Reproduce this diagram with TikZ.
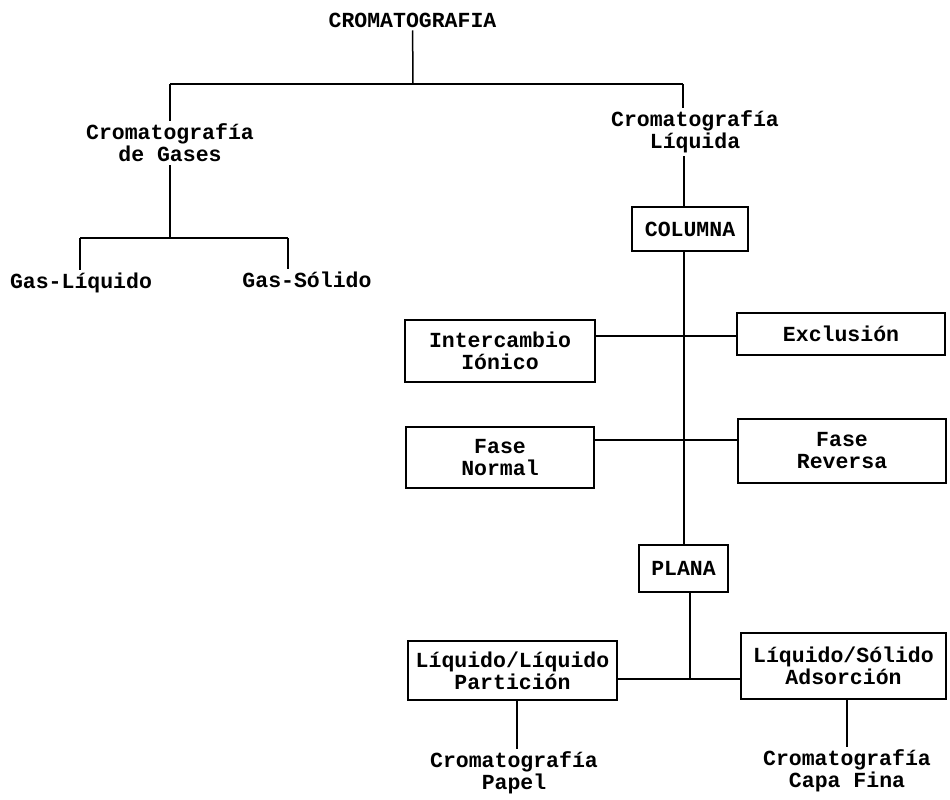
\documentclass[tikz,border=0pt]{standalone}
\usepackage{fontspec}
\setmainfont{Liberation Mono}
\begin{document}
\begin{tikzpicture}[x=1pt,y=-1pt,
  every node/.style={font=\bfseries\fontsize{21.5}{22}\selectfont, align=center, inner sep=3pt},
  lbl/.style={},
  bx/.style={draw, line width=1.4pt, inner sep=0pt},
  ln/.style={line width=1.5pt}]
\useasboundingbox (0,0) rectangle (950,800);
% text nodes
\node[lbl] (top) at (412.5,20) {CROMATOGRAFIA};
\node[lbl] (cg) at (170,143) {Cromatografía\\de Gases};
\node[lbl] (gl) at (81,283) {Gas-Líquido};
\node[lbl] (gs) at (307,280) {Gas-Sólido};
\node[lbl] (cl) at (695,132) {Cromatografía\\Líquida};
\node[lbl] (papel) at (514,773) {Cromatografía\\Papel};
\node[lbl] (capa) at (847,771) {Cromatografía\\Capa Fina};
% boxes
\node[bx, minimum width=116, minimum height=44] (col) at (690,229) {COLUMNA};
\node[bx, minimum width=190, minimum height=62] (inter) at (500,351) {Intercambio\\Iónico};
\node[bx, minimum width=208, minimum height=42] (ex) at (841,334) {Exclusión};
\node[bx, minimum width=188, minimum height=61] (fn) at (500,457.5) {Fase\\Normal};
\node[bx, minimum width=208, minimum height=64] (fr) at (842,451) {Fase\\Reversa};
\node[bx, minimum width=89, minimum height=47] (plana) at (683.5,568.5) {PLANA};
\node[bx, minimum width=209, minimum height=59] (ll) at (512.5,670.5) {Líquido/Líquido\\Partición};
\node[bx, minimum width=205, minimum height=66] (ls) at (843.5,666) {Líquido/Sólido\\Adsorción};
% junction coordinates
\coordinate (j1) at (413,84);
\coordinate (jl) at (170,84);
\coordinate (jr) at (683,84);
\coordinate (j2) at (170,238);
\coordinate (j2l) at (80,238);
\coordinate (j2r) at (288,238);
\coordinate (vx) at (684,0);
\coordinate (ey) at (0,336);
\coordinate (fy) at (0,440);
\coordinate (pv) at (690,0);
\coordinate (by) at (0,679);
\coordinate (pp) at (517,0);
\coordinate (cp) at (847,0);
% connectors
\draw[ln] (top) -- (j1);
\draw[ln] (jl) -- (jr);
\draw[ln] (jl) -- (jl |- cg.north);
\draw[ln] (cg.south -| j2) -- (j2);
\draw[ln] (j2l) -- (j2r);
\draw[ln] (j2l) -- (j2l |- gl.north);
\draw[ln] (j2r) -- (j2r |- gs.north);
\draw[ln] (jr) -- (jr |- cl.north);
\draw[ln] (cl.south -| vx) -- (col.north -| vx);
\draw[ln] (col.south -| vx) -- (plana.north -| vx);
\draw[ln] (inter.east |- ey) -- (ex.west |- ey);
\draw[ln] (fn.east |- fy) -- (fr.west |- fy);
\draw[ln] (plana.south -| pv) -- (pv |- by);
\draw[ln] (ll.east |- by) -- (ls.west |- by);
\draw[ln] (ll.south -| pp) -- (pp |- papel.north);
\draw[ln] (ls.south -| cp) -- (cp |- capa.north);
\end{tikzpicture}
\end{document}
